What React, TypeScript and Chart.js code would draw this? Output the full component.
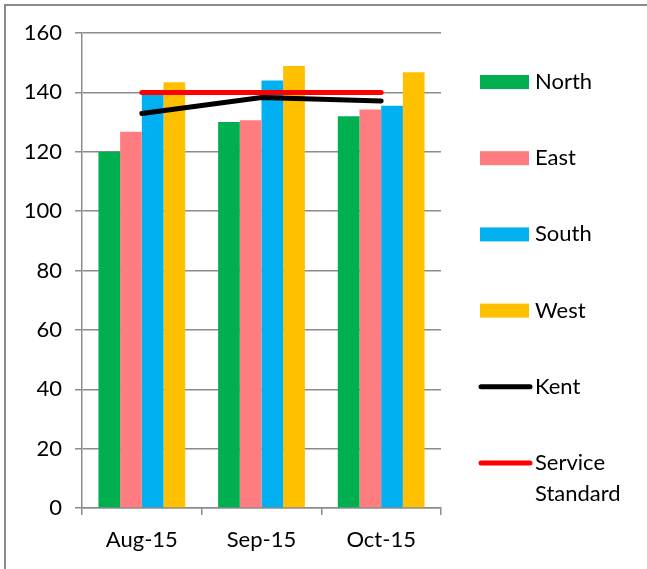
import React, { useEffect, useRef } from "react";
import { Chart, registerables } from "chart.js";

Chart.register(...registerables);

const categories = ["Aug-15", "Sep-15", "Oct-15"];
const north = [120, 130, 132];
const east = [126.7, 130.6, 134.2];
const south = [140, 144, 135.5];
const west = [143.4, 148.9, 146.8];
const kent = [132.9, 138.3, 137.1];
const serviceStandard = [140, 140, 140];
const yTicks = [0, 20, 40, 60, 80, 100, 120, 140, 160];

const FONT = "Lato, 'Open Sans', sans-serif";

const legendPlugin = {
  id: "customLegend",
  afterDraw(chart: any) {
    const ctx = chart.ctx;
    ctx.save();
    const items = chart.data.datasets;
    const startY = 82;
    const step = 76.2;
    items.forEach((ds: any, i: number) => {
      const cy = startY + i * step;
      if (ds.type === "line") {
        ctx.strokeStyle = ds.borderColor;
        ctx.lineWidth = 5;
        ctx.lineCap = "round";
        ctx.beginPath();
        ctx.moveTo(481, cy);
        ctx.lineTo(530, cy);
        ctx.stroke();
      } else {
        ctx.fillStyle = ds.backgroundColor;
        ctx.fillRect(480, cy - 7, 49, 14);
      }
      ctx.fillStyle = "#000";
      ctx.font = `22px ${FONT}`;
      ctx.textBaseline = "middle";
      ctx.textAlign = "left";
      const lines = String(ds.label).split("\n");
      lines.forEach((t: string, j: number) => {
        ctx.fillText(t, 535, cy + j * 31);
      });
    });
    ctx.restore();
  },
};

const borderPlugin = {
  id: "outerBorder",
  beforeDraw(chart: any) {
    const ctx = chart.ctx;
    ctx.save();
    ctx.strokeStyle = "#8a8a8a";
    ctx.lineWidth = 2;
    ctx.strokeRect(5, 5, chart.width + 20, chart.height + 20);
    ctx.restore();
  },
};

export default function App() {
  const ref = useRef<HTMLCanvasElement | null>(null);
  useEffect(() => {
    document.body.style.margin = "0";
    const canvas = ref.current!;
    const chart = new Chart(canvas, {
      type: "bar",
      data: {
        labels: categories,
        datasets: [
          { type: "bar", label: "North", data: north, backgroundColor: "#00B050", order: 2 },
          { type: "bar", label: "East", data: east, backgroundColor: "#FF7C80", order: 2 },
          { type: "bar", label: "South", data: south, backgroundColor: "#00B0F0", order: 2 },
          { type: "bar", label: "West", data: west, backgroundColor: "#FFC000", order: 2 },
          {
            type: "line", label: "Kent", data: kent, borderColor: "#000000", backgroundColor: "#000000",
            borderWidth: 5, pointRadius: 0, borderCapStyle: "round", tension: 0, order: 1,
          },
          {
            type: "line", label: "Service\nStandard", data: serviceStandard, borderColor: "#FF0000",
            backgroundColor: "#FF0000", borderWidth: 5, pointRadius: 0, borderCapStyle: "round", tension: 0, order: 0,
          },
        ] as any,
      },
      options: {
        animation: false,
        responsive: false,
        maintainAspectRatio: false,
        layout: { padding: { left: 0, right: 206, top: 33, bottom: 0 } },
        datasets: { bar: { categoryPercentage: 0.725, barPercentage: 1 } } as any,
        plugins: { legend: { display: false }, tooltip: { enabled: false } },
        scales: {
          x: {
            offset: true,
            grid: { offset: true, drawOnChartArea: false, color: "#8c8c8c", tickLength: 7, lineWidth: 1.5 },
            border: { color: "#8c8c8c", width: 1.5 },
            ticks: { color: "#000", font: { family: FONT, size: 22 }, padding: 12 },
            afterFit: (s: any) => { s.height = 61; },
          },
          y: {
            min: 0,
            max: 160,
            afterBuildTicks: (s: any) => { s.ticks = yTicks.map((v) => ({ value: v })); },
            grid: { color: "#8c8c8c", tickLength: 7, lineWidth: 1.5 },
            border: { color: "#8c8c8c", width: 1.5 },
            ticks: { color: "#000", font: { family: FONT, size: 22 }, padding: 13 },
            afterFit: (s: any) => { s.width = 82; },
          },
        },
      },
      plugins: [legendPlugin, borderPlugin],
    });
    return () => chart.destroy();
  }, []);
  return <canvas ref={ref} width={647} height={569} style={{ display: "block" }} />;
}
